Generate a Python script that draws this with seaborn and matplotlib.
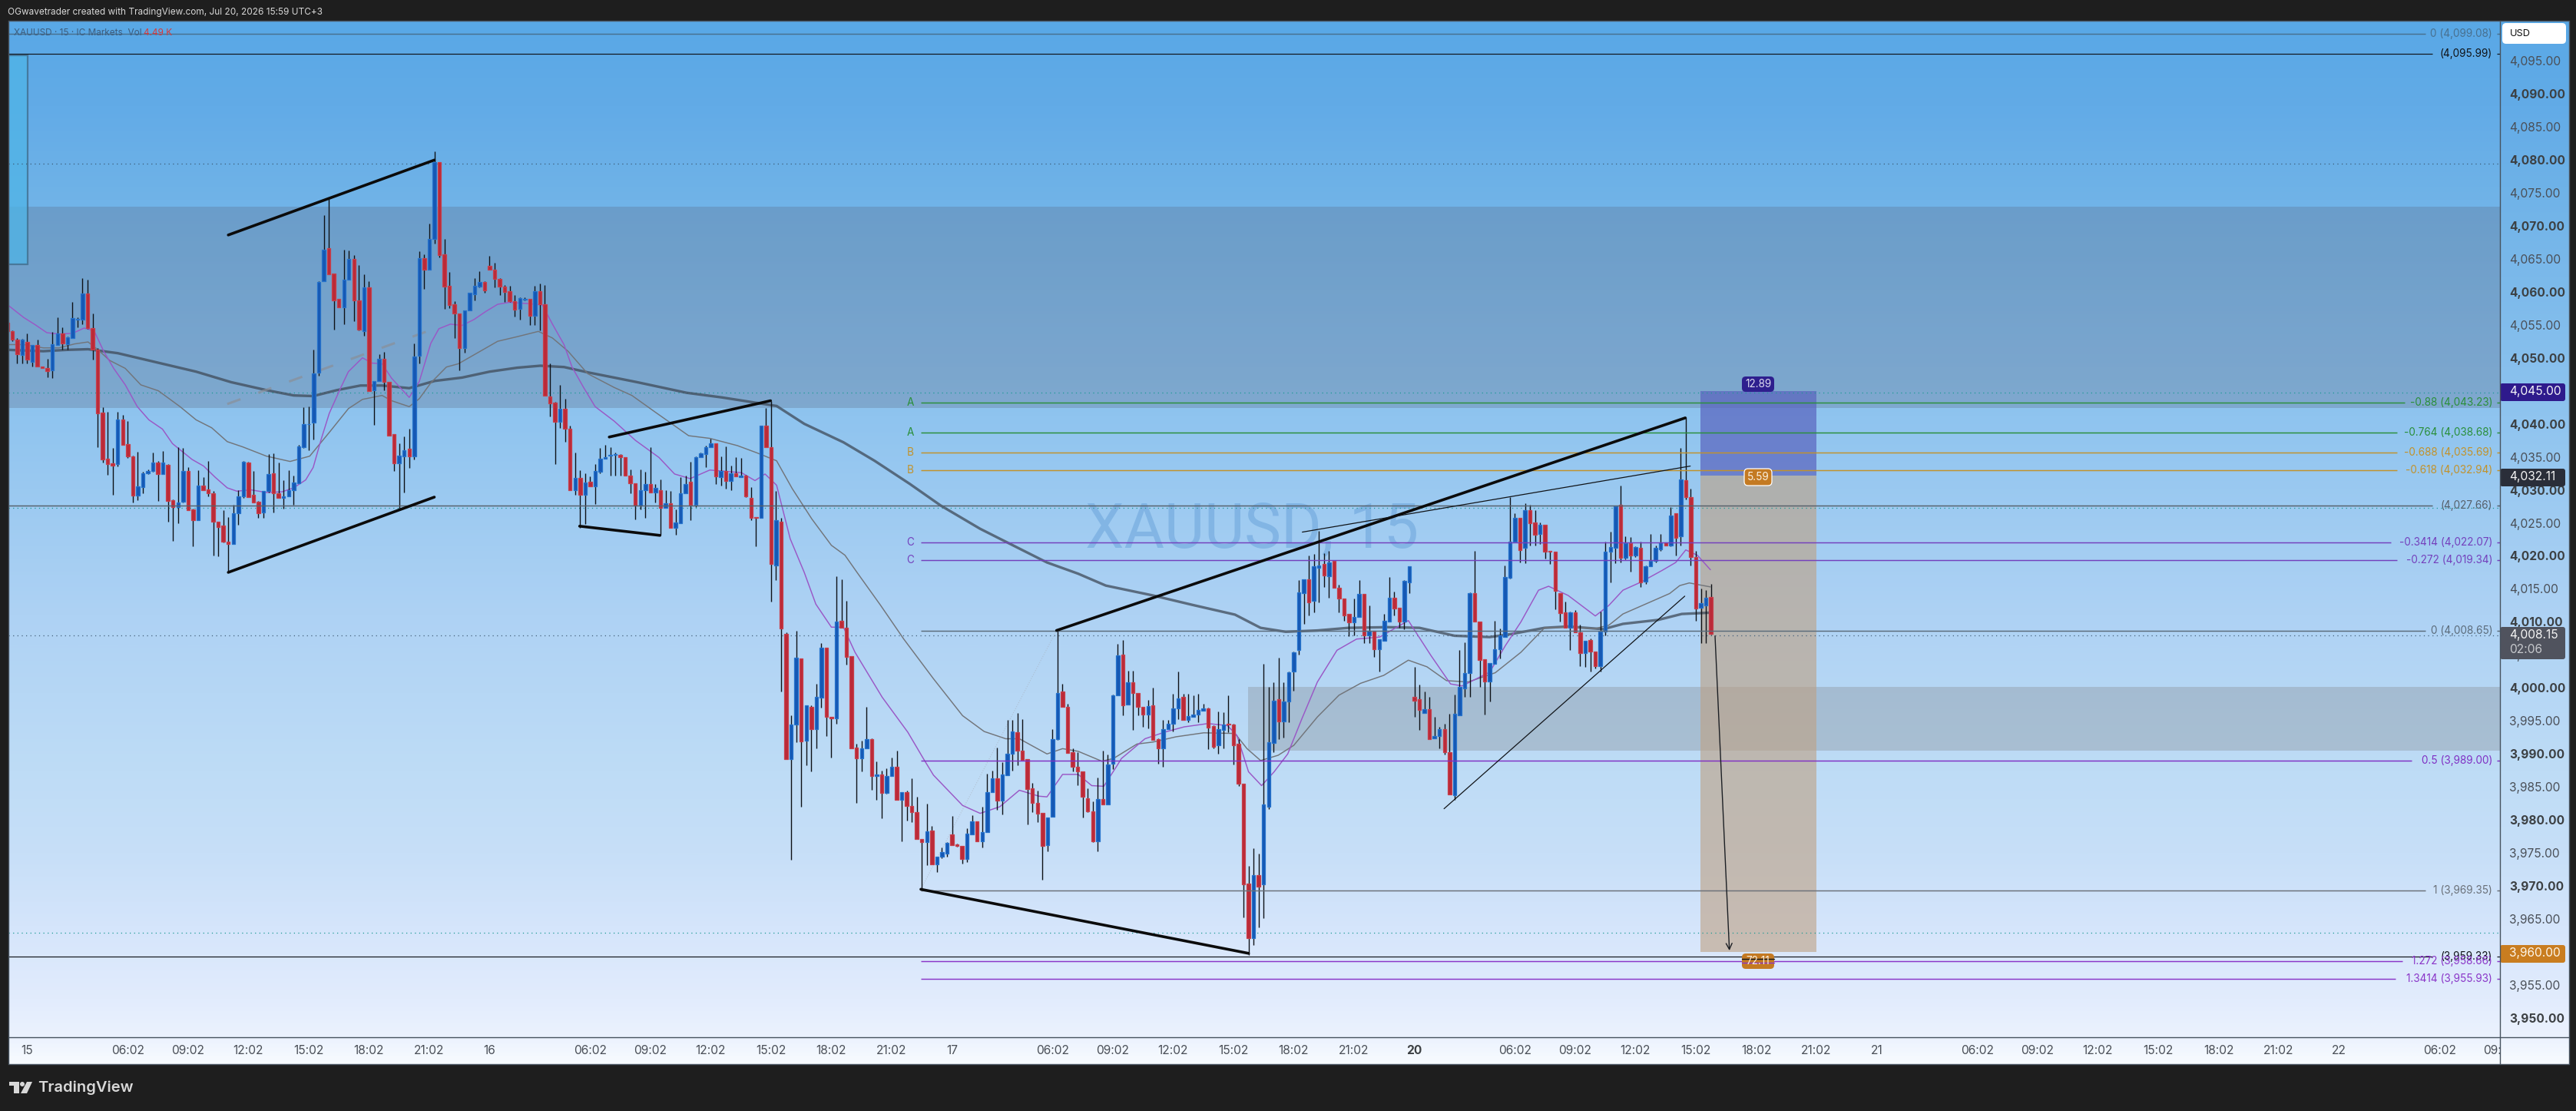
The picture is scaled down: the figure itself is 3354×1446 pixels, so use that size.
import matplotlib
matplotlib.use("Agg")
import matplotlib.pyplot as plt
import numpy as np
import pandas as pd
import seaborn as sns
from matplotlib.colors import LinearSegmentedColormap
from matplotlib.patches import FancyBboxPatch, Polygon, Rectangle, Circle
from matplotlib.transforms import Bbox

W, H = 3355, 1446

# 15 minute candles
opens = [
    4055.3,4054.0,4052.8,4050.4,4052.4,4049.4,4051.9,4048.7,4048.5,4048.1,
    4051.9,4053.7,4052.0,4053.0,4055.8,4055.8,4059.7,4054.5,4051.2,4041.7,
    4034.7,4034.0,4033.9,4040.7,4036.9,4035.1,4029.1,4030.4,4032.5,4032.8,
    4034.1,4032.4,4033.8,4028.4,4027.4,4028.2,4032.9,4027.0,4025.4,4030.6,
    4030.1,4029.5,4025.2,4024.6,4022.2,4021.8,4026.5,4029.0,4034.1,4029.3,
    4028.2,4026.6,4029.8,4032.5,4029.5,4028.8,4029.0,4030.0,4031.0,4036.5,
    4039.9,4040.2,4047.7,4061.6,4066.6,4062.8,4058.9,4057.7,4061.8,4065.0,
    4058.7,4054.0,4060.7,4045.1,4046.5,4049.9,4046.3,4038.4,4034.0,4035.1,
    4036.2,4035.1,4050.3,4065.1,4063.4,4068.0,4079.6,4065.7,4060.9,4058.1,
    4056.7,4051.5,4057.2,4059.6,4060.8,4061.5,4063.9,4063.3,4062.0,4060.8,
    4060.1,4058.6,4057.4,4058.8,4058.9,4056.4,4060.1,4058.1,4044.2,4043.2,
    4040.3,4042.3,4039.2,4030.0,4031.8,4029.2,4031.2,4030.5,4032.7,4034.7,
    4035.2,4035.3,4035.3,4034.9,4032.1,4031.0,4027.6,4030.0,4030.9,4029.6,
    4030.0,4027.3,4028.0,4024.2,4025.0,4029.5,4031.2,4027.7,4035.0,4035.4,
    4036.5,4037.0,4031.9,4032.8,4031.3,4032.5,4031.9,4032.2,4028.8,4025.9,
    4025.8,4039.7,4036.5,4018.6,4025.2,4008.2,3989.2,3994.5,4004.5,3992.0,
    3997.1,3993.8,3998.5,4006.1,3995.6,3995.4,4010.2,4009.1,4004.8,3991.0,
    3989.3,3990.9,3992.2,3986.7,3986.9,3984.1,3986.7,3988.1,3983.1,3984.2,
    3982.1,3981.2,3977.1,3976.7,3978.4,3973.3,3974.4,3974.9,3977.8,3976.3,
    3976.1,3974.1,3977.8,3979.8,3976.8,3978.2,3984.2,3986.3,3982.9,3986.8,
    3990.0,3993.3,3990.5,3989.2,3984.8,3982.6,3981.1,3976.2,3980.5,3992.2,
    3999.4,3997.1,3990.3,3988.1,3987.4,3983.3,3981.3,3976.8,3983.2,3982.4,
    3988.5,3998.9,4005.1,3997.5,4000.9,3999.2,3997.1,3996.0,3997.4,3992.2,
    3990.8,3993.8,3994.6,3996.9,3998.6,3995.1,3995.6,3996.0,3996.6,3996.9,
    3994.2,3991.3,3993.6,3994.6,3994.5,3991.5,3985.5,3970.4,3962.1,3971.7,
    3970.2,3982.0,3991.7,3998.3,3994.9,3998.0,4002.5,4005.7,4014.4,4016.4,
    4013.2,4018.2,4018.8,4016.9,4019.2,4015.2,4013.5,4011.2,4009.9,4010.7,
    4014.2,4007.9,4008.7,4005.8,4007.1,4010.1,4013.7,4012.2,4010.0,4016.0,
    3998.6,3998.3,3996.2,3996.8,3992.4,3992.7,3993.7,3990.3,3983.8,3995.8,
    3999.9,4002.2,4014.3,4010.1,4004.3,4001.0,4003.7,4005.9,4007.7,4016.7,
    4022.2,4025.7,4021.2,4026.9,4025.1,4023.3,4024.7,4020.7,4020.6,4014.4,
    4011.5,4009.1,4011.4,4008.4,4005.3,4007.2,4005.5,4003.3,4008.5,4020.6,
    4021.2,4027.7,4019.7,4021.9,4020.1,4021.2,4016.1,4018.4,4019.2,4021.0,
    4022.0,4021.6,4026.4,4023.0,4031.5,4028.9,4019.8,4012.1,4012.5,4013.8,
]
closes = [
    4054.0,4052.8,4050.5,4052.7,4049.7,4051.9,4048.7,4048.4,4048.0,4052.1,
    4053.7,4052.2,4053.1,4056.0,4055.9,4059.7,4054.5,4051.2,4041.6,4034.6,
    4033.9,4033.7,4040.7,4036.8,4035.1,4029.1,4030.5,4032.5,4032.9,4034.1,
    4032.4,4034.1,4028.3,4027.4,4028.1,4032.9,4026.9,4025.4,4030.7,4030.0,
    4029.5,4025.2,4024.4,4022.1,4021.8,4026.5,4029.0,4034.3,4028.9,4028.1,
    4026.5,4029.8,4032.4,4029.5,4028.8,4029.0,4030.0,4031.1,4036.6,4040.0,
    4040.0,4047.6,4061.5,4066.4,4062.7,4058.7,4057.7,4061.8,4065.0,4058.7,
    4054.3,4060.7,4045.0,4046.5,4049.9,4046.3,4038.2,4034.0,4035.2,4036.0,
    4035.1,4050.2,4065.1,4063.4,4068.0,4079.6,4065.5,4060.8,4058.0,4056.7,
    4051.5,4057.2,4059.8,4060.9,4061.5,4060.2,4063.3,4062.0,4060.8,4060.0,
    4058.6,4057.3,4059.0,4058.9,4056.4,4060.1,4058.1,4044.3,4043.1,4040.3,
    4042.3,4039.2,4030.0,4031.8,4029.2,4031.1,4030.5,4032.8,4034.7,4035.0,
    4035.3,4035.4,4034.9,4032.1,4031.0,4027.6,4030.0,4030.9,4029.6,4030.3,
    4027.3,4028.0,4024.2,4025.1,4029.5,4030.9,4027.7,4034.9,4035.5,4036.5,
    4037.0,4032.0,4032.8,4031.3,4032.5,4032.0,4032.2,4029.0,4025.8,4025.8,
    4039.7,4036.5,4018.8,4025.4,4009.0,3989.2,3994.5,4004.6,3991.9,3997.4,
    3993.8,3998.6,4006.1,3995.6,3995.4,4010.1,4009.1,4004.7,3990.9,3989.3,
    3990.9,3992.2,3986.7,3986.9,3984.1,3986.7,3988.1,3983.1,3984.2,3982.1,
    3981.2,3977.1,3976.6,3978.3,3973.3,3974.4,3975.1,3976.5,3976.2,3976.1,
    3974.1,3977.9,3979.8,3976.8,3978.2,3984.2,3986.3,3982.9,3986.9,3990.0,
    3993.4,3990.5,3989.1,3984.7,3982.6,3981.0,3976.1,3980.4,3992.2,3999.2,
    3997.1,3990.1,3988.1,3987.4,3983.5,3981.3,3976.8,3983.2,3982.4,3988.4,
    3998.9,4004.9,3997.4,4000.9,3999.2,3997.1,3996.0,3997.3,3992.1,3990.8,
    3993.8,3994.6,3996.9,3998.4,3995.1,3995.7,3996.0,3996.7,3996.9,3994.0,
    3991.1,3993.7,3994.5,3994.5,3991.3,3985.5,3970.3,3962.1,3971.7,3969.9,
    3982.3,3991.8,3998.1,3994.9,3998.0,4002.4,4005.4,4014.5,4016.4,4013.0,
    4018.4,4018.6,4017.0,4019.0,4015.2,4013.5,4011.0,4009.9,4010.8,4014.2,
    4008.0,4008.7,4005.8,4007.4,4010.2,4013.7,4012.0,4010.0,4016.2,4018.4,
    3998.1,3996.7,3996.8,3992.3,3992.7,3993.7,3990.3,3983.9,3996.1,4000.1,
    4002.3,4014.4,4010.1,4004.2,4001.0,4003.8,4005.9,4007.9,4016.8,4022.2,
    4025.7,4020.9,4026.9,4025.0,4023.2,4024.7,4020.6,4020.6,4014.7,4011.3,
    4009.1,4011.4,4008.4,4005.3,4007.1,4005.5,4003.3,4008.5,4020.6,4021.3,
    4027.5,4019.7,4021.9,4020.1,4021.3,4016.0,4018.4,4019.2,4021.2,4022.0,
    4021.6,4026.1,4022.7,4031.6,4028.9,4019.8,4012.0,4012.8,4013.7,4008.15,
]
highs = [
    4055.6,4054.2,4053.0,4052.9,4053.7,4051.9,4052.7,4048.7,4049.8,4053.9,
    4056.1,4054.6,4053.2,4058.5,4056.1,4062.1,4061.8,4056.7,4051.5,4042.5,
    4041.8,4036.3,4041.8,4041.3,4040.4,4035.2,4035.8,4032.7,4033.1,4035.6,
    4034.4,4035.9,4033.9,4028.6,4036.5,4036.3,4033.4,4027.1,4033.0,4031.9,
    4034.4,4029.8,4025.2,4026.9,4025.9,4027.7,4030.0,4034.4,4034.2,4032.8,
    4028.3,4029.8,4035.4,4035.5,4034.1,4031.5,4033.0,4032.2,4036.8,4042.5,
    4042.6,4051.3,4061.6,4071.6,4074.2,4062.8,4058.9,4066.4,4066.2,4065.6,
    4064.0,4062.7,4061.6,4046.5,4050.5,4050.9,4046.3,4038.4,4037.0,4038.1,
    4039.2,4052.2,4066.1,4065.7,4070.3,4081.3,4079.6,4068.0,4063.0,4058.6,
    4056.7,4057.2,4059.8,4062.1,4063.1,4061.6,4065.4,4064.4,4062.1,4061.0,
    4060.9,4059.5,4059.2,4059.1,4058.9,4060.9,4061.3,4061.0,4049.2,4043.3,
    4045.9,4043.8,4039.7,4035.7,4033.0,4032.5,4032.0,4033.9,4036.3,4036.8,
    4036.5,4035.6,4035.4,4034.9,4033.1,4031.0,4033.1,4032.7,4036.5,4030.9,
    4031.6,4030.0,4029.8,4027.0,4031.9,4032.1,4034.2,4035.1,4035.7,4036.7,
    4037.8,4037.0,4035.1,4036.6,4033.7,4034.9,4034.8,4032.3,4030.4,4025.9,
    4039.7,4042.4,4043.5,4029.8,4025.8,4008.4,3995.8,4008.6,4004.5,3997.4,
    3997.4,4000.6,4006.8,4006.1,3995.6,4016.9,4016.4,4013.2,4004.8,3991.6,
    3992.0,3997.1,3992.4,3988.9,3987.5,3987.8,3989.5,3990.5,3984.2,3984.5,
    3986.3,3983.5,3977.1,3982.5,3979.1,3974.4,3975.8,3976.7,3980.6,3976.4,
    3976.1,3978.7,3980.7,3979.8,3982.0,3987.0,3987.5,3991.0,3988.8,3995.1,
    3995.1,3996.2,3995.3,3989.2,3985.6,3984.5,3981.1,3980.4,3993.7,4008.7,
    4000.6,3997.6,3990.8,3990.3,3987.4,3984.8,3982.8,3986.4,3990.5,3989.9,
    3999.0,4006.7,4007.3,4002.6,4002.6,3999.2,3997.1,3998.2,4000.0,3992.4,
    3995.2,3995.2,3999.1,4002.5,3999.1,3999.1,3998.9,3999.1,3997.6,3997.0,
    3994.3,3996.4,3996.3,3998.9,3994.6,3992.3,3985.5,3973.0,3975.7,3974.9,
    4003.7,4000.1,4000.9,4004.6,4000.9,4002.5,4005.5,4016.3,4016.5,4020.1,
    4020.3,4023.8,4020.4,4020.8,4019.2,4015.6,4013.5,4011.2,4013.5,4016.3,
    4014.2,4012.5,4008.7,4007.4,4011.2,4016.8,4014.6,4012.2,4016.3,4018.4,
    4003.2,4000.5,3999.5,3998.6,3995.6,3994.1,3994.6,3996.1,3999.0,4005.7,
    4006.9,4014.5,4020.8,4010.1,4004.3,4003.8,4010.2,4009.0,4018.6,4028.9,
    4026.4,4025.7,4028.0,4027.7,4026.9,4025.1,4024.7,4020.7,4020.6,4014.4,
    4013.1,4011.6,4011.8,4009.6,4007.1,4007.5,4005.5,4011.6,4022.1,4023.7,
    4027.5,4030.7,4023.0,4022.8,4021.5,4022.1,4018.6,4023.3,4021.6,4023.3,
    4022.0,4027.4,4026.4,4036.4,4041.0,4030.2,4020.8,4015.0,4014.8,4015.8,
]
lows = [
    4053.7,4052.5,4049.2,4049.1,4049.1,4048.7,4048.7,4048.4,4047.0,4046.9,
    4051.9,4051.2,4051.2,4053.0,4054.6,4055.1,4054.4,4049.7,4036.5,4034.1,
    4032.3,4029.2,4033.6,4036.8,4034.8,4028.1,4028.4,4029.5,4032.4,4032.7,
    4028.3,4032.4,4025.2,4022.3,4025.0,4028.1,4026.9,4021.5,4025.4,4029.9,
    4029.0,4020.1,4019.9,4022.0,4017.5,4021.8,4024.7,4028.8,4028.9,4028.1,
    4025.7,4025.7,4029.6,4026.6,4028.8,4027.1,4029.0,4027.7,4031.0,4036.3,
    4036.0,4037.6,4047.3,4061.6,4062.7,4054.3,4057.7,4055.1,4061.8,4055.6,
    4054.1,4053.3,4045.0,4039.8,4046.5,4045.1,4038.2,4032.9,4027.1,4029.6,
    4033.3,4034.6,4049.2,4060.4,4063.4,4067.3,4065.2,4057.4,4057.5,4053.0,
    4048.1,4050.8,4057.2,4058.7,4060.7,4059.9,4063.3,4060.7,4059.5,4058.5,
    4058.5,4056.2,4055.8,4058.7,4055.0,4055.0,4054.1,4044.3,4041.1,4033.9,
    4039.4,4037.3,4030.0,4029.3,4024.3,4024.8,4030.5,4027.8,4032.5,4034.7,
    4032.2,4032.2,4032.2,4032.1,4029.5,4025.5,4027.0,4025.8,4029.6,4028.1,
    4023.2,4027.3,4024.2,4023.2,4025.0,4029.5,4025.4,4027.4,4034.9,4033.4,
    4036.5,4030.9,4030.7,4030.2,4029.9,4032.0,4031.9,4028.9,4025.4,4021.5,
    4025.8,4036.5,4013.1,4016.3,3999.4,3989.2,3974.0,3991.8,3982.0,3988.3,
    3987.4,3990.8,3997.0,3992.7,3989.5,3994.6,4009.1,4003.5,3990.9,3982.6,
    3987.4,3990.9,3984.6,3983.0,3980.2,3984.0,3986.7,3983.0,3976.8,3979.9,
    3979.7,3977.1,3969.6,3973.2,3973.3,3972.1,3974.2,3974.4,3976.2,3975.9,
    3973.4,3973.6,3977.8,3976.8,3975.8,3978.2,3984.2,3981.5,3980.8,3986.8,
    3987.5,3988.3,3989.1,3979.3,3981.2,3979.7,3971.0,3975.2,3980.5,3992.1,
    3997.1,3990.1,3987.3,3985.3,3980.4,3981.2,3976.6,3975.3,3982.4,3982.4,
    3987.7,3998.9,3995.9,3997.5,3993.6,3995.8,3994.1,3993.9,3992.1,3988.5,
    3988.0,3993.7,3993.4,3995.3,3995.1,3994.8,3995.6,3994.8,3996.6,3990.7,
    3990.8,3990.0,3990.8,3993.3,3988.4,3985.2,3965.2,3959.5,3961.0,3963.7,
    3965.1,3981.7,3990.3,3992.3,3992.5,3994.8,3999.6,4005.0,4009.7,4011.0,
    4011.5,4013.0,4015.3,4013.6,4015.2,4011.5,4010.2,4007.8,4008.0,4010.7,
    4006.8,4006.8,4004.7,4002.5,4007.1,4010.1,4011.0,4009.1,4008.9,4014.4,
    3995.6,3993.6,3996.2,3992.3,3992.4,3990.9,3989.9,3983.9,3983.0,3995.8,
    3998.6,3998.6,4010.1,4000.1,3996.0,3998.0,4003.7,4004.5,4007.7,4016.6,
    4022.1,4019.0,4018.9,4021.6,4021.6,4021.8,4019.6,4018.8,4011.9,4010.1,
    4009.1,4005.7,4008.4,4003.3,4003.2,4002.5,4002.9,4002.5,4008.0,4016.0,
    4018.9,4019.0,4019.5,4017.6,4019.8,4015.3,4015.8,4018.4,4019.0,4020.8,
    4021.6,4021.5,4020.1,4021.6,4028.6,4018.6,4010.2,4006.8,4006.8,4008.1,
]

# moving averages, sampled by eye along each curve
fast_bar = [0.3,3.3,5.6,7.9,10.3,13.0,15.3,17.3,19.2,21.2,23.5,25.9,28.2,30.9,32.9,36.8,39.1,41.4,43.8,45.7,
    48.5,51.6,54.7,57.0,59.4,60.9,62.5,64.1,66.4,67.9,70.7,72.6,74.6,76.5,80.0,82.0,84.3,85.9,88.2,90.5,
    92.9,95.2,97.6,99.9,103.8,106.5,108.5,110.8,112.4,114.7,117.0,120.8,125.0,129.7,132.8,135.9,139.8,146.1,148.8,150.8,
    153.1,155.8,158.6,160.9,164.0,166.4,168.7,174.1,179.2,182.3,184.3,190.1,193.6,197.5,201.4,205.3,206.9,210.0,213.1,215.8,
    218.2,220.9,221.7,226.4,230.3,234.2,238.9,242.8,244.7,247.0,249.6,252.1,254.8,257.6,260.7,264.6,268.5,273.1,278.8,283.3,
    287.2,289.5,295.0,298.1,301.2,304.7,306.7,310.6,316.0,318.7,321.5,325.0,329.3,332.0,334.0,336.3,338.9]
fast_price = [4057.9,4056.1,4055.0,4053.8,4053.6,4053.7,4054.5,4054.1,4051.0,4048.4,4045.9,4042.6,4040.6,4039.2,4037.0,4034.6,4033.6,4031.9,4030.3,4029.8,
    4030.0,4029.6,4029.7,4030.3,4031.5,4033.4,4037.7,4041.6,4045.5,4047.9,4050.0,4049.2,4049.1,4046.9,4044.0,4046.4,4052.2,4054.4,4055.1,4054.9,
    4055.8,4057.0,4058.1,4058.4,4058.2,4058.0,4055.1,4052.0,4048.6,4045.5,4042.6,4040.4,4037.5,4034.9,4032.4,4031.7,4033.0,4032.6,4031.4,4032.4,
    4030.7,4022.6,4017.5,4012.7,4009.2,4009.2,4005.4,3998.6,3993.3,3989.3,3986.8,3982.2,3981.0,3982.0,3984.5,3983.6,3983.5,3986.9,3986.9,3985.2,
    3985.1,3988.3,3989.3,3992.3,3993.3,3994.1,3994.6,3994.3,3992.8,3987.3,3985.2,3987.3,3990.0,3995.3,4000.9,4005.7,4007.4,4007.7,4010.2,4004.9,
    4000.6,4000.3,4002.4,4006.4,4010.0,4014.8,4015.4,4014.0,4010.9,4012.5,4014.8,4016.0,4017.8,4019.0,4020.9,4020.1,4017.9]

mid_bar = [0.3,3.3,7.2,10.3,13.4,16.1,18.1,20.4,23.5,26.6,30.1,34.4,37.6,40.7,43.8,46.9,51.6,56.3,60.2,64.1,
    67.9,70.7,74.6,76.5,80.0,82.0,84.3,87.4,89.8,93.7,97.6,101.5,105.7,108.5,111.6,115.5,120.8,124.3,128.9,135.6,
    139.8,145.3,149.2,153.1,156.2,160.1,164.0,166.7,169.1,173.8,178.4,184.3,190.1,194.4,198.7,201.4,206.9,210.0,213.1,217.8,
    220.1,224.8,228.0,232.6,238.1,244.3,246.7,249.4,252.9,256.0,260.7,265.0,269.3,273.9,278.8,282.5,286.4,290.7,296.1,301.2,
    305.9,310.6,316.0,318.7,321.5,326.9,330.8,332.8,334.7,338.9]
mid_price = [4052.0,4052.0,4051.5,4051.5,4052.1,4052.4,4051.2,4049.6,4048.4,4045.9,4045.0,4042.6,4040.6,4039.4,4037.3,4036.5,4035.1,4034.3,4035.1,4038.7,
    4042.3,4043.7,4044.3,4043.5,4042.6,4043.8,4046.2,4048.6,4049.1,4050.8,4052.5,4053.2,4054.0,4053.0,4051.0,4047.6,4045.5,4044.3,4041.8,4038.2,
    4037.8,4036.7,4035.6,4034.4,4030.2,4025.6,4021.6,4020.1,4017.5,4012.5,4007.4,4001.4,3995.8,3993.4,3992.3,3992.3,3990.0,3990.8,3990.4,3988.9,
    3989.3,3991.5,3991.8,3992.6,3993.2,3993.1,3990.8,3989.0,3989.8,3991.3,3995.6,3998.9,4000.7,4001.9,4004.2,4003.2,4001.1,4000.9,4002.3,4005.4,
    4009.1,4009.2,4009.0,4009.5,4011.2,4013.0,4014.3,4015.5,4015.9,4015.3]

slow_bar = [0.3,7.2,11.8,16.1,22.0,29.8,37.6,44.6,51.6,57.0,60.9,65.6,70.3,74.6,80.0,85.1,90.5,96.0,101.5,106.1,
    110.8,115.5,120.8,125.4,135.2,142.2,153.1,158.6,166.4,172.6,179.6,185.8,193.6,202.2,206.9,213.1,218.6,228.0,235.7,244.3,
    249.4,254.4,260.7,266.9,274.7,281.0,288.0,295.0,299.6,305.9,310.6,317.6,321.5,328.5,333.2,338.9]
slow_price = [4051.2,4051.0,4051.2,4051.3,4050.7,4049.3,4047.9,4046.3,4045.1,4044.3,4044.2,4045.1,4045.8,4045.8,4045.4,4046.5,4047.0,4047.9,4048.5,4048.8,
    4048.6,4047.8,4047.0,4046.3,4044.7,4044.0,4042.7,4040.0,4037.2,4034.4,4030.9,4027.6,4024.1,4020.8,4019.0,4017.3,4015.5,4014.0,4012.6,4011.1,
    4009.1,4008.5,4008.7,4009.1,4009.2,4009.1,4007.9,4007.7,4008.2,4009.1,4009.3,4008.9,4009.7,4010.3,4011.2,4011.4]

# drawn trendlines: bar_from, price_from, bar_to, price_to
heavy_lines = [
    (44, 4068.6, 85, 4079.95), (44, 4017.5, 85, 4028.9),
    (119.8, 4038.0, 151.9, 4043.5), (113.9, 4024.5, 129.9, 4023.1),
    (181.8, 3969.5, 247, 3959.8), (208.8, 4008.7, 333.9, 4040.9),
]
thin_lines = [(257.7, 4023.6, 334.9, 4033.6), (285.9, 3981.7, 333.8, 4013.9)]

# horizontal levels with their right hand labels
level_prices = [4099.08, 4095.99, 4043.23, 4038.68, 4035.69, 4032.94, 4027.66, 4022.07,
                4019.34, 4008.65, 3989.00, 3969.35, 3959.33, 3958.66, 3955.93]
level_labels = ["0 (4,099.08)", "(4,095.99)", "-0.88 (4,043.23)", "-0.764 (4,038.68)",
                "-0.688 (4,035.69)", "-0.618 (4,032.94)", "(4,027.66)", "-0.3414 (4,022.07)",
                "-0.272 (4,019.34)", "0 (4,008.65)", "0.5 (3,989.00)", "1 (3,969.35)",
                "(3,959.33)", "1.272 (3,958.66)", "1.3414 (3,955.93)"]
level_ends = [481.2, 482.5, 477, 475.5, 475.5, 475.5, 482.5, 474.3, 475.5, 481.2, 478.4, 481.2, 482.5, 476.6, 475.2]
level_colors = ["#48708f", "#101418", "#2a8f3a", "#2a8f3a", "#c2922a", "#c2922a", "#56606a", "#7440bc",
                "#7440bc", "#5b6b7a", "#8030c4", "#6a7078", "#101418", "#8a35c8", "#8a35c8"]
level_starts = [0.26, 0.26, 181.8, 181.8, 181.8, 181.8, 0.26, 181.8, 181.8, 181.8, 181.8, 181.8, 0.26, 181.8, 181.8]
letter_prices = [4043.23, 4038.68, 4035.69, 4032.94, 4022.07, 4019.34]
letter_labels = ["A", "A", "B", "B", "C", "C"]
letter_colors = ["#2a8f3a", "#2a8f3a", "#c2922a", "#c2922a", "#7440bc", "#7440bc"]
dotted_prices = [4079.4, 4044.7, 4027.3, 4007.95, 3962.9]
dotted_colors = ["#3c5a76", "#1b9a94", "#1b9a94", "#44607a", "#1b9a94"]

time_ticks = [4, 24, 36, 48, 60, 72, 84, 96, 116, 128, 140, 152, 164, 176, 188, 208, 220, 232, 244, 256, 268,
              280, 300, 312, 324, 336, 348, 360, 372, 392, 404, 416, 428, 440, 452, 464, 484, 496]
hour_labels = ["06:02", "09:02", "12:02", "15:02", "18:02", "21:02"]
time_labels = ["15"] + hour_labels + ["16"] + hour_labels + ["17"] + hour_labels + ["20"] + hour_labels + ["21"] + hour_labels + ["22", "06:02", "09:02"]
price_ticks = list(range(3950, 4100, 5))

sns.set_theme(style="white")
plt.rcParams["font.family"] = ["Inter", "DejaVu Sans"]

fig = plt.figure(figsize=(W / 100, H / 100), dpi=100, facecolor="#1e1e1e")


def px_rect(x0, y0, x1, y1):
    return [x0 / W, 1 - y1 / H, (x1 - x0) / W, (y1 - y0) / H]


# backdrop gradient runs under chart and both scales
bg = fig.add_axes(px_rect(11, 27, 3345, 1385), zorder=0)
stops = [(0.0, "#59a8e6"), (0.08, "#62abe7"), (0.17, "#70b3e8"), (0.38, "#8fc4ef"), (0.57, "#aed2f4"),
         (0.72, "#bedcf6"), (0.80, "#c7dff8"), (0.87, "#d5e5fb"), (0.94, "#e2ecfd"), (0.975, "#ebf2fe"), (1.0, "#f7fbff")]
bg.imshow(np.linspace(0, 1, 512).reshape(-1, 1), aspect="auto",
          cmap=LinearSegmentedColormap.from_list("tv", stops), vmin=0, vmax=1)
bg.axis("off")

ax = fig.add_axes(px_rect(11, 27, 3255, 1350), zorder=1)
ax.patch.set_visible(False)
ax.set_xlim(0.26, 496.0)
ax.set_ylim(3947.09, 4101.05)
for s in ax.spines.values():
    s.set_visible(False)

# shaded zones
ax.add_patch(Rectangle((0.26, 4042.4), 496, 30.5, fc=(90/255, 100/255, 125/255), alpha=0.28, ec="none", zorder=1))
ax.add_patch(Rectangle((246.9, 3990.5), 250, 9.7, fc=(120/255, 120/255, 120/255), alpha=0.28, ec="none", zorder=1))
ax.add_patch(Rectangle((0.26, 4064.2), 3.82, 31.6, fc="#4fb4e6", alpha=0.75, ec="#3f6a88", lw=1.6, zorder=1))

# long/short position box
ax.add_patch(Rectangle((336.9, 4032.11), 23.1, 12.89, fc=(89/255, 99/255, 190/255), alpha=0.7, ec="none", zorder=1.5))
ax.add_patch(Rectangle((336.9, 3960.0), 23.1, 72.11, fc=(190/255, 160/255, 130/255), alpha=0.6, ec="none", zorder=1.5))

ax.text(247.7, 4023.8, "XAUUSD, 15", fontsize=58, color="#5f9bd6", alpha=0.45, family="Roboto",
        ha="center", va="center", zorder=1.2)

for p, c in zip(dotted_prices, dotted_colors):
    ax.hlines(p, 0.26, 496, color=c, lw=0.9, linestyles=(0, (1, 3.5)), zorder=2)

# moving averages
sns.lineplot(x=slow_bar, y=slow_price, ax=ax, color="#3f4a58", lw=2.4, alpha=0.75, sort=False, estimator=None, zorder=3)
sns.lineplot(x=mid_bar, y=mid_price, ax=ax, color="#72757a", lw=1.05, sort=False, estimator=None, zorder=3)
sns.lineplot(x=fast_bar, y=fast_price, ax=ax, color="#9a58c6", lw=1.05, sort=False, estimator=None, zorder=3)
ax.plot([43.8, 83.9], [4043.0, 4054.1], color="#8a8f98", lw=2.2, alpha=0.7, dashes=(6, 8), zorder=3)
ax.plot([181.8, 208.8], [3969.5, 4008.7], color="#a8b0bc", lw=0.8, ls=":", alpha=0.6, zorder=3)

# candles
df = pd.DataFrame({"open": opens, "high": highs, "low": lows, "close": closes})
df["bar"] = df.index
up = df["close"] >= df["open"]
ax.vlines(df["bar"], df["low"], df["high"], color="#0e1116", lw=1.0, zorder=4)
ax.bar(df.loc[up, "bar"], (df["close"] - df["open"])[up], bottom=df.loc[up, "open"], width=0.68,
       color="#1558b4", edgecolor="#2673cc", lw=0.9, zorder=5)
ax.bar(df.loc[~up, "bar"], (df["open"] - df["close"])[~up], bottom=df.loc[~up, "close"], width=0.68,
       color="#bb2a38", edgecolor="#c8404c", lw=0.9, zorder=5)

# horizontal levels, labels and small ticks on the scale edge
for p, txt, x0, x1, c in zip(level_prices, level_labels, level_starts, level_ends, level_colors):
    lw = 0.85 if c == "#101418" else 1.05
    ax.hlines(p, x0, x1, color=c, lw=lw, zorder=6)
    ax.hlines(p, 495.4, 496, color=c, lw=lw, zorder=6)
    ax.text(494.5, p, txt, color=c, fontsize=9.8, ha="right", va="center", zorder=6)
for p, txt, c in zip(letter_prices, letter_labels, letter_colors):
    ax.text(179.7, p, txt, color=c, fontsize=9.8, ha="center", va="center", zorder=6)

for x0, y0, x1, y1 in heavy_lines:
    ax.plot([x0, x1], [y0, y1], color="#0b0b0b", lw=2.6, solid_capstyle="round", zorder=7)
for x0, y0, x1, y1 in thin_lines:
    ax.plot([x0, x1], [y0, y1], color="#111418", lw=0.9, zorder=7)
ax.annotate("", xy=(342.7, 3959.9), xytext=(339.8, 4008.2),
            arrowprops=dict(arrowstyle="->", color="#1c1f24", lw=1.0, mutation_scale=14), zorder=7)

# scales
ax.yaxis.tick_right()
ax.set_yticks(price_ticks, [f"{v:,.2f}" for v in price_ticks])
ax.set_xticks(time_ticks, time_labels)
ax.tick_params(axis="y", length=0, pad=8.6, labelsize=11.2, labelcolor="#4a4f57")
ax.tick_params(axis="x", length=0, pad=7.5, labelsize=11.2, labelcolor="#4a4f57")
for v, lab in zip(price_ticks, ax.get_yticklabels()):
    if v % 10 == 0:
        lab.set_fontweight("bold")
        lab.set_color("#3c4043")
clip = Bbox([[11, 0], [3255, H]])
for lab in ax.get_xticklabels():
    lab.set_clip_on(True)
    lab.set_clip_box(clip)
    if lab.get_text() == "20":
        lab.set_fontweight("bold")
        lab.set_color("#3c4043")

# overlay in pixels for chrome: frame, chips, header, logo
ov = fig.add_axes([0, 0, 1, 1], zorder=8)
ov.set_xlim(0, W)
ov.set_ylim(H, 0)
ov.axis("off")
ov.patch.set_visible(False)
ov.plot([11, 3345, 3345, 11, 11], [27, 27, 1385, 1385, 27], color="#4a5662", lw=1.0)
ov.plot([3255, 3255], [27, 1385], color="#46525e", lw=1.0)
ov.plot([11, 3345], [1350, 1350], color="#46525e", lw=1.0)


def chip(x0, y0, x1, y1, fc, ec="none", lw=0.0, rad=3):
    ov.add_patch(FancyBboxPatch((x0 + rad, y0 + rad), x1 - x0 - 2 * rad, y1 - y0 - 2 * rad,
                                boxstyle=f"round,pad={rad},rounding_size={rad}", fc=fc, ec=ec, lw=lw))


chip(3258, 30, 3341, 57, "white", rad=5)
ov.text(3268, 44, "USD", color="#111", fontsize=9.2, va="center")

chip(3255, 499, 3340, 522, "#2e1a8c")
ov.text(3267, 509.5, "4,045.00", color="#f4f4f8", fontsize=11.2, va="center")
chip(3255, 610, 3340, 633, "#2a2e39")
ov.text(3267, 620, "4,032.11", color="#f4f4f4", fontsize=11.2, va="center")
chip(3255, 816, 3340, 858, "#50535e")
ov.text(3267, 826, "4,008.15", color="#f4f4f4", fontsize=11.2, va="center")
ov.text(3267, 845, "02:06", color="#c6c8cc", fontsize=11.2, va="center")
chip(3255, 1230, 3340, 1253, "#c97d20")
ov.text(3267, 1240, "3,960.00", color="#fdf6ea", fontsize=11.2, va="center")

chip(2268, 490, 2310, 510, "#2e1f8e", rad=5)
ov.text(2289, 500, "12.89", color="#dcdcf0", fontsize=9.8, ha="center", va="center")
chip(2271, 610, 2307, 632, "#c47a22", ec="white", lw=0.9, rad=5)
ov.text(2289, 621, "5.59", color="#fbf1e2", fontsize=9.8, ha="center", va="center")
chip(2268, 1241, 2310, 1261, "#c47a22", rad=5)
ov.text(2289, 1251, "72.11", color="#fbf1e2", fontsize=9.8, ha="center", va="center")
ov.plot([2268, 2310], [1247.5, 1247.5], color="#101418", lw=1.0)
ov.plot([2268, 2310], [1252.5, 1252.5], color="#8a35c8", lw=1.0)

ov.text(10, 16, "OGwavetrader created with TradingView.com, Jul 20, 2026 15:59 UTC+3",
        color="#d8d8d8", fontsize=8.5, va="center")
ov.text(18, 42.5, "XAUUSD · 15 · IC Markets  Vol", color="#3d5c7c", fontsize=8.5, va="center")
ov.text(187, 42.5, "4.49 K", color="#d83a3a", fontsize=8.5, va="center")

logo = "#d8d8d8"
ov.add_patch(Rectangle((12, 1408), 13, 5, fc=logo, ec="none"))
ov.add_patch(Rectangle((18, 1413), 7, 10, fc=logo, ec="none"))
ov.add_patch(Circle((29, 1411), 3, fc=logo, ec="none"))
ov.add_patch(Polygon([(35, 1408), (42, 1408), (35, 1423), (27, 1423)], fc=logo, ec="none"))
ov.text(49, 1416, "TradingView", color=logo, fontsize=14.5, fontweight="semibold", va="center")

fig.savefig("out.png", dpi=100, facecolor=fig.get_facecolor())
